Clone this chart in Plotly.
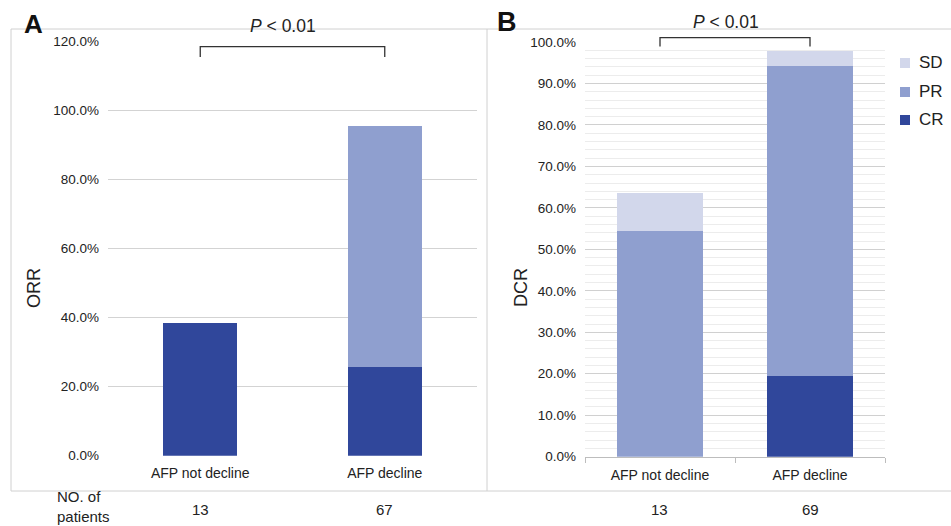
import plotly.graph_objects as go

# ---------------- data ----------------
categories = ["AFP not decline", "AFP decline"]

# Panel A: ORR (%)
orr_cr = [38.5, 25.8]
orr_pr = [0.0, 69.7]
n_patients_a = [13, 67]

# Panel B: DCR (%)
dcr_cr = [0.0, 19.5]
dcr_pr = [54.5, 74.6]
dcr_sd = [9.0, 3.8]
n_patients_b = [13, 69]

orr_ticks = [0, 20, 40, 60, 80, 100, 120]
dcr_ticks = [0, 10, 20, 30, 40, 50, 60, 70, 80, 90, 100]

legend_names = ["SD", "PR", "CR"]

p_label = "<i>P</i> < 0.01"

# ---------------- style ----------------
W, H = 951, 526
C_CR = "#30479b"
C_PR = "#8f9fcf"
C_SD = "#d2d7eb"
colors = {"CR": C_CR, "PR": C_PR, "SD": C_SD}
FONT = "Arial, Liberation Sans, Helvetica, sans-serif"
TXT = "#222222"

def px_x(x):
    return x / W

def px_y(y):
    return 1 - y / H

A_dom_x = [px_x(108), px_x(477)]
A_dom_y = [px_y(455.7), px_y(41)]
B_dom_x = [px_x(585), px_x(885)]
B_dom_y = [px_y(456.7), px_y(42)]

fig = go.Figure()

# Panel A traces
fig.add_trace(go.Bar(x=categories, y=orr_cr, marker_color=C_CR, width=0.4,
                     xaxis="x", yaxis="y", name="CR"))
fig.add_trace(go.Bar(x=categories, y=orr_pr, marker_color=C_PR, width=0.4,
                     xaxis="x", yaxis="y", name="PR"))

# Panel B traces
fig.add_trace(go.Bar(x=categories, y=dcr_cr, marker_color=C_CR, width=0.567,
                     xaxis="x2", yaxis="y2", name="CR"))
fig.add_trace(go.Bar(x=categories, y=dcr_pr, marker_color=C_PR, width=0.567,
                     xaxis="x2", yaxis="y2", name="PR"))
fig.add_trace(go.Bar(x=categories, y=dcr_sd, marker_color=C_SD, width=0.567,
                     xaxis="x2", yaxis="y2", name="SD"))

for tr in fig.data:
    tr.marker.line.width = 0

TICKF = dict(size=13.5, color="#222222")

fig.update_layout(
    width=W, height=H,
    margin=dict(l=0, r=0, t=0, b=0, autoexpand=False),
    paper_bgcolor="white", plot_bgcolor="white",
    barmode="stack",
    showlegend=False,
    font=dict(family=FONT, color=TXT, size=13),
    xaxis=dict(domain=A_dom_x, anchor="y", showgrid=False, showline=False,
               ticks="", tickfont=dict(size=14, color="#222222"),
               ticklabelstandoff=7, zeroline=False, automargin=False),
    yaxis=dict(domain=A_dom_y, anchor="x", range=[0, 120], tickvals=orr_ticks,
               ticktext=[f"{v:.1f}%" for v in orr_ticks], showgrid=True,
               gridcolor="#d3d3d3", gridwidth=1, zeroline=False, showline=False,
               tickfont=TICKF, ticklabelstandoff=8, automargin=False),
    xaxis2=dict(domain=B_dom_x, anchor="y2", showgrid=False, showline=True,
                linecolor="#bdbdbd", linewidth=1, ticks="outside",
                tickson="boundaries", ticklen=5, tickcolor="#bdbdbd",
                tickfont=dict(size=14, color="#222222"), ticklabelstandoff=5,
                zeroline=False, automargin=False),
    yaxis2=dict(domain=B_dom_y, anchor="x2", range=[0, 100], tickvals=dcr_ticks,
                ticktext=[f"{v:.1f}%" for v in dcr_ticks], showgrid=True,
                gridcolor="#d0d0d0", gridwidth=1, zeroline=False, showline=False,
                tickfont=TICKF, ticklabelstandoff=8, automargin=False,
                minor=dict(dtick=2, showgrid=True, gridcolor="#ececec",
                           gridwidth=1)),
)

shapes = []
# outer frame and divider
shapes.append(dict(type="rect", xref="paper", yref="paper",
                   x0=px_x(11), x1=px_x(960), y0=px_y(491), y1=px_y(29),
                   line=dict(color="#d0d0d0", width=1), layer="below"))
shapes.append(dict(type="line", xref="paper", yref="paper",
                   x0=px_x(487), x1=px_x(487), y0=px_y(491), y1=px_y(29),
                   line=dict(color="#d0d0d0", width=1), layer="below"))

def cat_center(dom, i, n=2):
    return dom[0] + (i + 0.5) / n * (dom[1] - dom[0])

def bracket(dom, top_y, leg_y):
    xl = cat_center(dom, 0)
    xr = cat_center(dom, 1)
    path = (f"M {xl} {px_y(leg_y)} L {xl} {px_y(top_y)} "
            f"L {xr} {px_y(top_y)} L {xr} {px_y(leg_y)}")
    return dict(type="path", xref="paper", yref="paper", path=path,
                line=dict(color="#333333", width=1.3))

shapes.append(bracket(A_dom_x, 46.7, 57))
shapes.append(bracket(B_dom_x, 37.7, 46.5))

ann = []

def label(text, x, y, size, color=TXT, xanchor="center", **kw):
    ann.append(dict(text=text, x=x, y=y, xref="paper", yref="paper",
                    xanchor=xanchor, yanchor="middle", showarrow=False,
                    font=dict(size=size, color=color), **kw))

# manual legend (SD, PR, CR from top)
leg_y = [63, 92, 120]
for name, yy in zip(legend_names, leg_y):
    shapes.append(dict(type="rect", xref="paper", yref="paper",
                       x0=px_x(900), x1=px_x(910), y0=px_y(yy + 5), y1=px_y(yy - 5),
                       fillcolor=colors[name], line=dict(width=0)))
    label(name, px_x(917), px_y(yy), 17, xanchor="left")

fig.update_layout(shapes=shapes)

label("<b>A</b>", px_x(33.5), px_y(24), 26, color="#111111")
label("<b>B</b>", px_x(506.5), px_y(22), 27, color="#111111")
label(p_label, px_x(282.5), px_y(26), 17.5)
label(p_label, px_x(725.5), px_y(22.5), 17.5)
label("ORR", px_x(34), px_y(288), 18, textangle=-90)
label("DCR", px_x(521), px_y(288), 18, textangle=-90)
label("NO. of<br>patients", px_x(55), px_y(506), 15, xanchor="left", align="left")
for i, n in enumerate(n_patients_a):
    label(str(n), cat_center(A_dom_x, i), px_y(509), 15)
for i, n in enumerate(n_patients_b):
    label(str(n), cat_center(B_dom_x, i), px_y(509), 15)

fig.update_layout(annotations=ann)

fig.write_html(
    "out.html",
    config={"displayModeBar": False},
    post_script="document.body.style.margin='0px';document.body.style.overflow='hidden';",
)
